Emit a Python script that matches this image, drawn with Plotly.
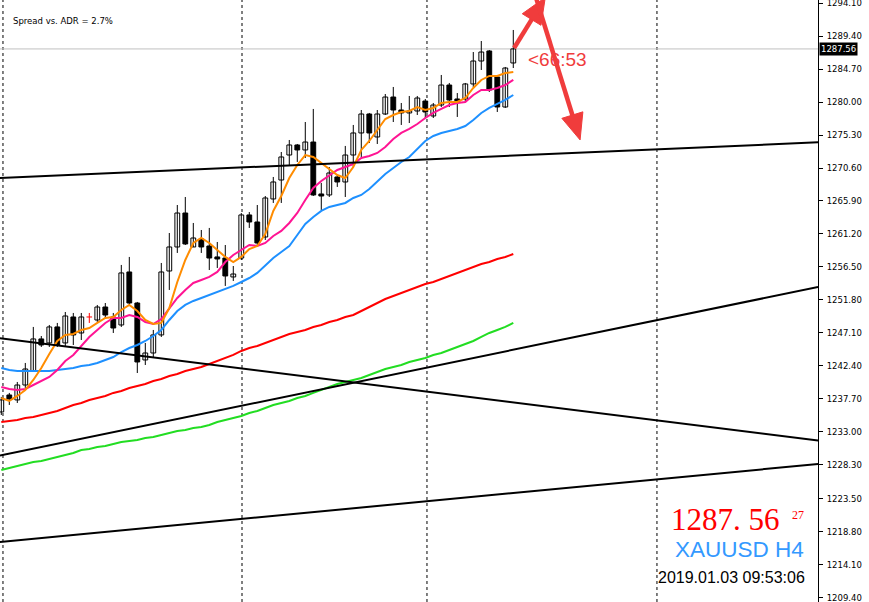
import plotly.graph_objects as go

# ---------------- data ----------------
OPEN = [1235.85, 1238.27, 1237.56, 1239.69, 1241.69, 1246.25, 1245.68, 1247.96, 1245.68, 1249.38,
        1247.10, 1249.38, 1248.95, 1250.80, 1249.38, 1248.24, 1255.79, 1251.37, 1243.26, 1244.25,
        1246.82, 1255.93, 1259.35, 1264.19, 1259.35, 1260.49, 1259.49, 1257.93, 1257.78, 1255.08,
        1257.78, 1263.91, 1262.91, 1260.77, 1266.19, 1268.89, 1272.45, 1273.88, 1273.17, 1274.30,
        1266.90, 1266.76, 1269.32, 1268.61, 1272.45, 1275.59, 1278.29, 1275.02, 1278.29, 1280.71,
        1278.86, 1278.44, 1278.72, 1280.14, 1278.01, 1279.57, 1282.42, 1280.43, 1280.43, 1282.57,
        1285.84, 1287.27, 1283.56, 1279.29, 1285.56]
HIGH = [1237.99, 1238.56, 1240.12, 1242.83, 1247.96, 1246.67, 1248.24, 1248.53, 1250.09, 1249.95,
        1249.95, 1249.95, 1251.09, 1251.37, 1249.95, 1256.79, 1257.93, 1251.52, 1245.68, 1247.53,
        1257.07, 1261.34, 1265.33, 1266.47, 1262.77, 1261.77, 1262.06, 1260.06, 1259.63, 1256.64,
        1264.19, 1264.33, 1265.33, 1266.61, 1269.32, 1272.88, 1274.59, 1274.02, 1277.15, 1279.01,
        1268.47, 1270.74, 1269.60, 1273.74, 1276.73, 1278.86, 1278.44, 1278.86, 1281.14, 1282.14,
        1279.86, 1280.86, 1280.86, 1280.43, 1279.86, 1283.85, 1282.71, 1281.28, 1282.71, 1287.12,
        1288.69, 1287.41, 1283.85, 1284.99, 1290.26]
LOW = [1235.42, 1236.85, 1237.13, 1239.27, 1241.55, 1245.11, 1245.11, 1245.11, 1245.11, 1245.39,
       1246.10, 1248.53, 1248.67, 1249.24, 1247.10, 1247.96, 1251.09, 1241.40, 1242.54, 1243.68,
       1246.53, 1253.23, 1258.50, 1259.63, 1259.35, 1258.50, 1256.07, 1256.36, 1253.80, 1254.51,
       1257.50, 1262.06, 1259.63, 1260.35, 1265.62, 1265.62, 1271.03, 1271.46, 1272.03, 1266.61,
       1264.62, 1266.47, 1267.90, 1266.47, 1270.60, 1272.17, 1274.16, 1274.02, 1278.15, 1277.15,
       1276.73, 1277.01, 1278.15, 1277.72, 1277.72, 1279.29, 1279.29, 1277.87, 1280.00, 1282.14,
       1284.56, 1281.43, 1278.58, 1279.15, 1284.84]
CLOSE = [1237.56, 1237.70, 1239.69, 1241.97, 1246.25, 1245.39, 1247.96, 1245.39, 1249.52, 1246.82,
         1249.38, 1249.38, 1250.80, 1249.66, 1247.81, 1255.65, 1251.37, 1242.97, 1244.25, 1246.82,
         1255.79, 1259.35, 1264.19, 1259.78, 1260.63, 1259.35, 1257.78, 1257.64, 1255.22, 1255.50,
         1263.91, 1262.91, 1259.92, 1266.33, 1268.61, 1272.17, 1273.88, 1273.17, 1274.30, 1266.76,
         1266.61, 1269.89, 1268.61, 1272.45, 1275.59, 1278.29, 1275.59, 1278.29, 1280.71, 1278.86,
         1278.44, 1278.72, 1280.57, 1278.58, 1279.57, 1282.42, 1280.29, 1280.00, 1282.57, 1285.84,
         1287.12, 1281.71, 1279.29, 1284.84, 1287.56]

MA_ORANGE = [1237.84, 1237.42, 1238.13, 1238.98, 1240.41, 1242.12, 1244.11, 1245.96, 1246.82, 1246.96,
             1247.53, 1247.81, 1248.53, 1249.24, 1249.38, 1250.38, 1251.09, 1250.23, 1248.95, 1248.38,
             1248.53, 1250.66, 1254.36, 1257.50, 1259.92, 1260.63, 1259.92, 1258.92, 1257.93, 1257.21,
             1257.93, 1259.06, 1259.49, 1261.20, 1264.48, 1266.61, 1269.18, 1271.03, 1272.45, 1272.17,
             1271.31, 1270.46, 1269.60, 1269.18, 1270.74, 1273.17, 1274.45, 1276.01, 1277.58, 1278.15,
             1278.58, 1278.72, 1279.29, 1278.86, 1279.15, 1279.86, 1280.00, 1280.00, 1280.57, 1282.00,
             1283.14, 1283.71, 1283.71, 1284.13, 1284.28]
MA_PINK = [1239.41, 1239.12, 1238.98, 1239.12, 1239.69, 1240.26, 1240.83, 1241.83, 1243.11, 1243.97,
           1245.25, 1246.53, 1247.53, 1248.53, 1249.24, 1249.24, 1249.66, 1249.38, 1248.67, 1248.38,
           1249.09, 1250.52, 1252.09, 1253.23, 1254.22, 1254.65, 1255.08, 1255.79, 1257.21, 1258.21,
           1258.92, 1259.63, 1259.49, 1259.92, 1260.92, 1261.63, 1262.77, 1264.19, 1266.04, 1267.75,
           1268.75, 1269.60, 1270.32, 1270.74, 1271.17, 1272.03, 1272.31, 1272.74, 1273.59, 1274.73,
           1275.59, 1276.16, 1276.87, 1277.72, 1278.44, 1279.01, 1279.57, 1279.86, 1280.00, 1281.00,
           1281.71, 1281.71, 1282.00, 1282.42, 1283.14]
MA_BLUE = [1242.12, 1241.83, 1241.69, 1241.69, 1241.69, 1241.69, 1241.69, 1241.83, 1241.97, 1242.12,
           1242.40, 1242.54, 1242.83, 1243.26, 1243.68, 1244.39, 1244.96, 1245.39, 1245.96, 1246.67,
           1247.53, 1248.95, 1250.23, 1251.09, 1251.66, 1252.09, 1252.51, 1252.94, 1253.37, 1253.80,
           1254.36, 1254.93, 1255.65, 1256.79, 1257.78, 1258.64, 1259.49, 1261.06, 1262.63, 1263.62,
           1264.48, 1265.05, 1265.33, 1265.62, 1266.33, 1266.76, 1267.61, 1268.61, 1269.75, 1270.60,
           1271.46, 1272.17, 1273.31, 1274.45, 1275.16, 1275.59, 1275.87, 1276.16, 1276.58, 1277.44,
           1278.44, 1279.15, 1279.72, 1280.29, 1281.00]
MA_RED = [1234.42, 1234.57, 1234.71, 1234.99, 1235.14, 1235.42, 1235.71, 1235.99, 1236.42, 1236.85,
          1237.13, 1237.56, 1237.84, 1238.13, 1238.56, 1238.84, 1239.27, 1239.55, 1239.84, 1240.26,
          1240.55, 1240.98, 1241.26, 1241.69, 1241.97, 1242.26, 1242.69, 1243.11, 1243.54, 1243.97,
          1244.54, 1244.96, 1245.25, 1245.68, 1246.10, 1246.53, 1246.96, 1247.24, 1247.53, 1247.96,
          1248.24, 1248.67, 1248.95, 1249.38, 1249.66, 1250.23, 1250.80, 1251.37, 1251.94, 1252.37,
          1252.80, 1253.23, 1253.65, 1254.08, 1254.36, 1254.79, 1255.22, 1255.65, 1256.07, 1256.50,
          1256.93, 1257.21, 1257.64, 1257.93, 1258.35]
MA_GREEN = [1227.59, 1227.87, 1228.16, 1228.44, 1228.73, 1228.87, 1229.15, 1229.44, 1229.72, 1230.01,
            1230.44, 1230.58, 1230.86, 1231.01, 1231.29, 1231.58, 1231.72, 1231.86, 1232.15, 1232.29,
            1232.57, 1232.86, 1233.14, 1233.29, 1233.57, 1233.71, 1234.00, 1234.42, 1234.71, 1234.99,
            1235.28, 1235.71, 1235.99, 1236.42, 1236.85, 1237.13, 1237.42, 1237.84, 1238.13, 1238.56,
            1238.98, 1239.41, 1239.84, 1240.12, 1240.41, 1240.69, 1241.12, 1241.55, 1241.97, 1242.26,
            1242.54, 1242.97, 1243.26, 1243.54, 1243.97, 1244.25, 1244.68, 1245.11, 1245.53, 1245.96,
            1246.53, 1247.10, 1247.53, 1247.96, 1248.53]

TICK_LABELS = ["1294.10", "1289.40", "1284.70", "1280.00", "1275.30", "1270.60", "1265.90",
               "1261.20", "1256.50", "1251.80", "1247.10", "1242.40", "1237.70", "1233.00",
               "1228.30", "1223.50", "1218.80", "1214.10", "1209.40"]

# period separators (bar-index positions)
SEPARATORS = [0.21, 30.09, 53.21, 81.96]

# trend lines: bar-index and price of the two anchors
TREND_X = [-0.17, 102.1]
TREND_1 = [1269.18, 1274.25]
TREND_2 = [1246.35, 1231.77]
TREND_3 = [1229.65, 1253.65]
TREND_4 = [1217.33, 1228.44]

# hand-drawn arrows: (tail bar-index, tail price, tip bar-index, tip price)
ARROW_UP = (64.1, 1287.7, 68.0, 1294.9)
ARROW_DOWN = (66.8, 1295.0, 72.35, 1274.6)

BID = 1287.56
TIMER_TEXT = "<66:53"
SPREAD_TEXT = "Spread vs. ADR = 2.7%"
PRICE_BIG = "1287. 56"
SPREAD_PTS = "27"
SYMBOL_TEXT = "XAUUSD H4"
TIME_TEXT = "2019.01.03 09:53:06"

# ---------------- layout constants ----------------
W, H = 869, 602
ML, MR, MT, MB = 0, 51, 0, 0
PW, PH = W - ML - MR, H - MT - MB
XR = [-0.1625, 102.09]
YR = [1208.78, 1294.53]
SX = PW / (XR[1] - XR[0])
SY = PH / (YR[1] - YR[0])

fig = go.Figure()

n = len(OPEN)
idx = list(range(n))

# wicks
wx, wy, rx, ry = [], [], [], []
for i in idx:
    if CLOSE[i] == OPEN[i]:
        rx += [i, i, None]
        ry += [LOW[i], HIGH[i], None]
    else:
        wx += [i, i, None]
        wy += [LOW[i], HIGH[i], None]
fig.add_trace(go.Scatter(x=wx, y=wy, mode="lines", line=dict(color="black", width=1),
                         hoverinfo="skip", showlegend=False))

# bodies
bx, bbase, bh, bcol = [], [], [], []
for i in idx:
    if CLOSE[i] == OPEN[i]:
        continue
    lo, hi = min(OPEN[i], CLOSE[i]), max(OPEN[i], CLOSE[i])
    bx.append(i)
    bbase.append(lo)
    bh.append(max(hi - lo, 0.02))
    bcol.append("white" if CLOSE[i] > OPEN[i] else "black")
fig.add_trace(go.Bar(x=bx, y=bh, base=bbase, width=0.6,
                     marker=dict(color=bcol, line=dict(color="black", width=1)),
                     hoverinfo="skip", showlegend=False))

# doji (red cross)
fig.add_trace(go.Scatter(x=rx, y=ry, mode="lines", line=dict(color="red", width=1),
                         hoverinfo="skip", showlegend=False))
dx, dy = [], []
for i in idx:
    if CLOSE[i] == OPEN[i]:
        dx += [i - 0.35, i + 0.35, None]
        dy += [OPEN[i], OPEN[i], None]
fig.add_trace(go.Scatter(x=dx, y=dy, mode="lines", line=dict(color="red", width=1),
                         hoverinfo="skip", showlegend=False))

# moving averages
for vals, col in [(MA_GREEN, "#22dd22"), (MA_RED, "#ff0000"), (MA_BLUE, "#1e90ff"),
                  (MA_PINK, "#ff1493"), (MA_ORANGE, "#ff8c00")]:
    fig.add_trace(go.Scatter(x=idx, y=vals, mode="lines", line=dict(color=col, width=2),
                             hoverinfo="skip", showlegend=False))

# trend lines
for tl in [TREND_1, TREND_2, TREND_3, TREND_4]:
    fig.add_trace(go.Scatter(x=TREND_X, y=tl, mode="lines", line=dict(color="black", width=2),
                             hoverinfo="skip", showlegend=False))

# arrows
ARROW_COLOR = "#f03c3c"


def add_arrow(a, head_len=26.0, head_half=11.0, shaft=4.5):
    x0, y0, x1, y1 = a
    px0, py0, px1, py1 = x0 * SX, y0 * SY, x1 * SX, y1 * SY
    vx, vy = px1 - px0, py1 - py0
    ln = (vx ** 2 + vy ** 2) ** 0.5
    ux, uy = vx / ln, vy / ln
    bx_, by_ = px1 - head_len * ux, py1 - head_len * uy
    nx, ny = -uy, ux
    lx, ly = bx_ + head_half * nx, by_ + head_half * ny
    rx_, ry_ = bx_ - head_half * nx, by_ - head_half * ny
    fig.add_trace(go.Scatter(x=[x0, (bx_ + 2 * ux) / SX], y=[y0, (by_ + 2 * uy) / SY], mode="lines",
                             line=dict(color=ARROW_COLOR, width=shaft),
                             hoverinfo="skip", showlegend=False))
    fig.add_trace(go.Scatter(x=[x1, lx / SX, rx_ / SX, x1], y=[y1, ly / SY, ry_ / SY, y1],
                             mode="lines", fill="toself", fillcolor=ARROW_COLOR,
                             line=dict(color=ARROW_COLOR, width=1),
                             hoverinfo="skip", showlegend=False))


add_arrow(ARROW_UP)
add_arrow(ARROW_DOWN)

shapes = []
for s in SEPARATORS:
    shapes.append(dict(type="line", xref="x", yref="paper", x0=s, x1=s, y0=0, y1=1,
                       line=dict(color="black", width=1, dash="3px,3px"), layer="below"))
shapes.append(dict(type="line", xref="paper", yref="y", x0=0, x1=1, y0=BID, y1=BID,
                   line=dict(color="#c0c0c0", width=1), layer="below"))

annotations = [
    dict(text=SPREAD_TEXT, xref="paper", yref="paper", x=11 / PW, y=1 - 21 / PH,
         xanchor="left", yanchor="middle", showarrow=False,
         font=dict(family="DejaVu Sans", size=8.5, color="black")),
    dict(text=TIMER_TEXT, xref="paper", yref="paper", x=526 / PW, y=1 - 60 / PH,
         xanchor="left", yanchor="middle", showarrow=False,
         font=dict(family="Liberation Sans", size=19, color=ARROW_COLOR)),
    dict(text=BID.__format__(".2f"), xref="paper", yref="y", x=1, y=BID,
         xanchor="left", yanchor="middle", showarrow=False, xshift=1,
         bgcolor="black", borderpad=1,
         font=dict(family="DejaVu Sans", size=8.5, color="white")),
    dict(text=PRICE_BIG, xref="paper", yref="paper", x=782 / PW, y=1 - 519 / PH,
         xanchor="right", yanchor="middle", showarrow=False,
         font=dict(family="Liberation Serif", size=31, color="#ff0000")),
    dict(text=SPREAD_PTS, xref="paper", yref="paper", x=806 / PW, y=1 - 515 / PH,
         xanchor="right", yanchor="middle", showarrow=False,
         font=dict(family="Liberation Serif", size=12, color="#ff0000")),
    dict(text=SYMBOL_TEXT, xref="paper", yref="paper", x=806 / PW, y=1 - 549 / PH,
         xanchor="right", yanchor="middle", showarrow=False,
         font=dict(family="Liberation Sans", size=22.5, color="#3399ff")),
    dict(text=TIME_TEXT, xref="paper", yref="paper", x=807 / PW, y=1 - 577 / PH,
         xanchor="right", yanchor="middle", showarrow=False,
         font=dict(family="Liberation Sans", size=16, color="black")),
]

fig.update_layout(
    width=W, height=H,
    margin=dict(l=ML, r=MR, t=MT, b=MB, pad=0),
    paper_bgcolor="white", plot_bgcolor="white",
    showlegend=False, hovermode=False,
    shapes=shapes, annotations=annotations,
    xaxis=dict(range=XR, showgrid=False, zeroline=False, showticklabels=False, ticks="",
               showline=True, side="top", linecolor="black", linewidth=1, fixedrange=True),
    yaxis=dict(range=YR, side="right", showgrid=False, zeroline=False,
               tickvals=[float(t) for t in TICK_LABELS], ticktext=TICK_LABELS,
               ticks="outside", ticklen=4, tickcolor="black", tickwidth=1,
               ticklabeloverflow="allow", ticklabelstandoff=2,
               showline=True, linecolor="black", linewidth=1, automargin=False,
               tickfont=dict(family="DejaVu Sans", size=8.5, color="black"), fixedrange=True),
)

fig.write_html("out.html", config={"displayModeBar": False},
               post_script="document.body.style.margin='0';document.body.style.overflow='hidden';")
